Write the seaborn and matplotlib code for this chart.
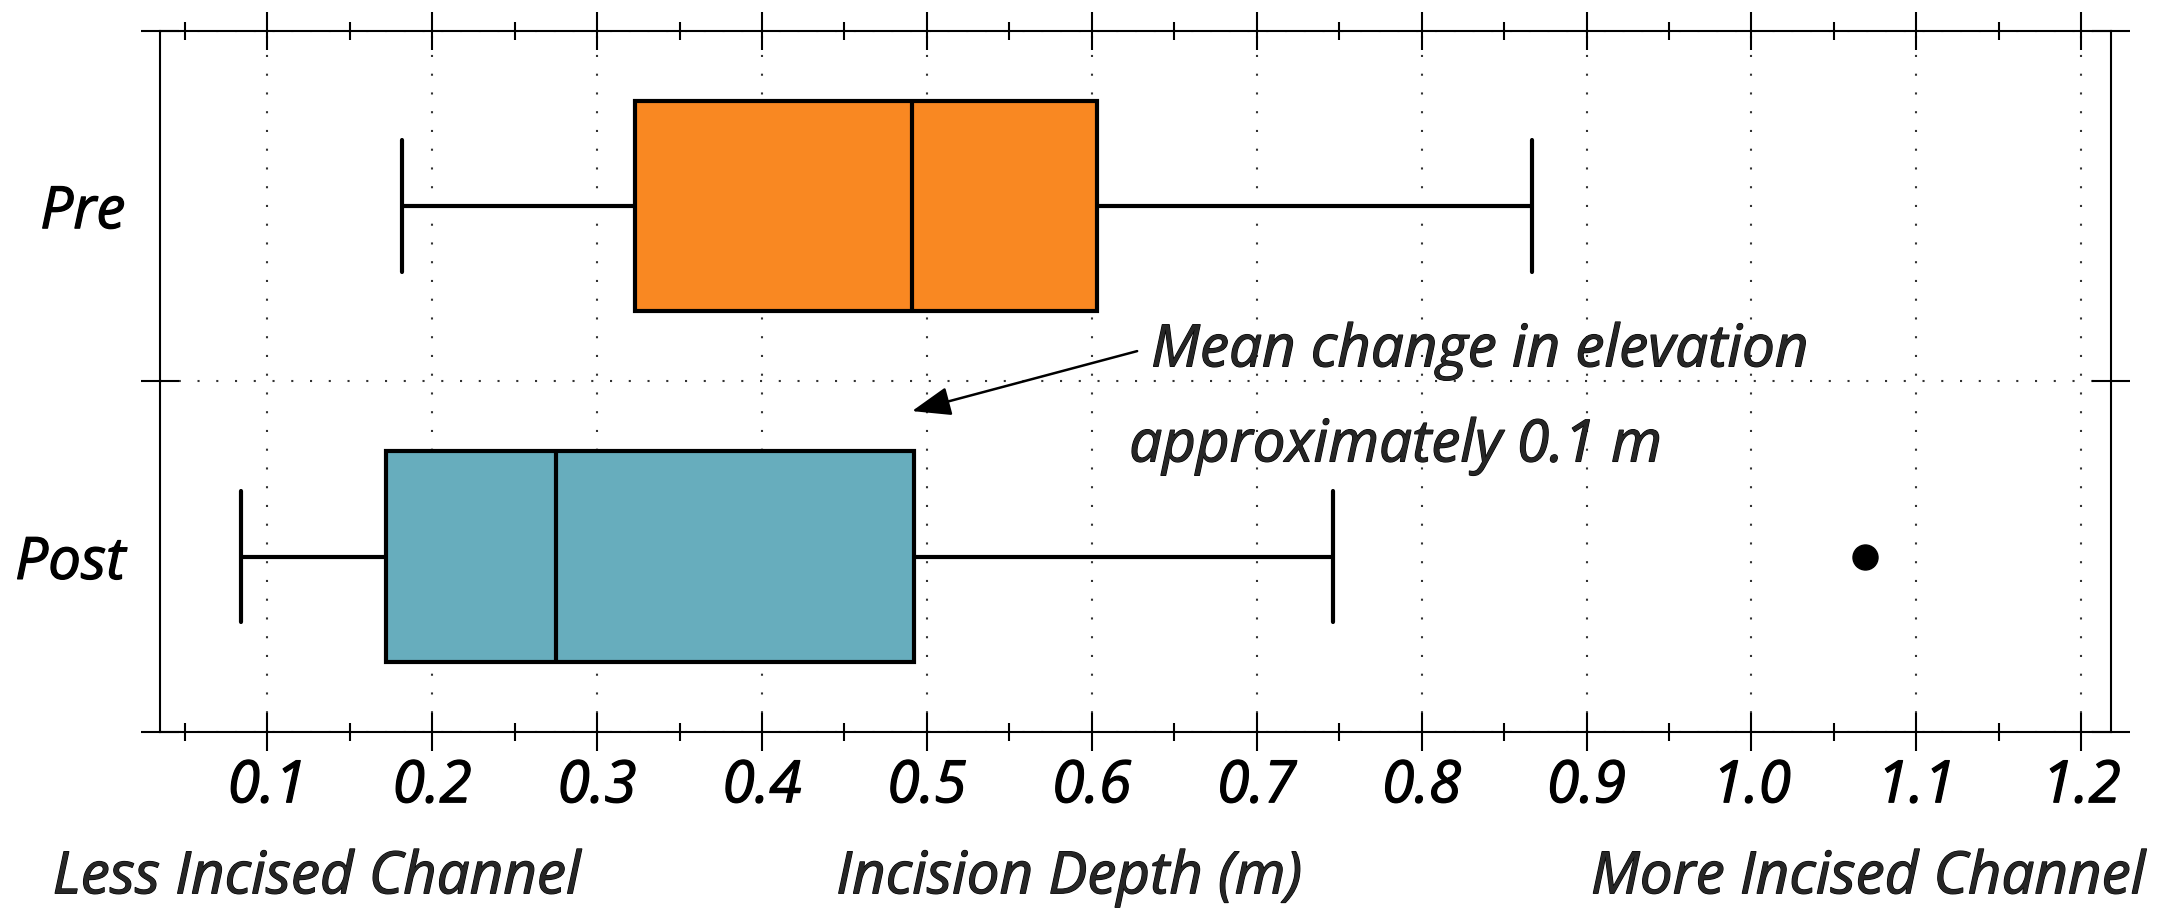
import numpy as np
import pandas as pd
import matplotlib
matplotlib.use("Agg")
import matplotlib.pyplot as plt
import matplotlib.patheffects as pe
from matplotlib.ticker import FixedLocator
import seaborn as sns

# ---- data ----
categories = ["Pre", "Post"]
whisker_low = [0.182, 0.084]
q1 = [0.323, 0.172]
median = [0.491, 0.275]
q3 = [0.603, 0.492]
whisker_high = [0.867, 0.746]
outliers = [[], [1.069]]
box_colors = ["#F98822", "#67ADBD"]
x_ticks = [0.1, 0.2, 0.3, 0.4, 0.5, 0.6, 0.7, 0.8, 0.9, 1.0, 1.1, 1.2]
x_tick_labels = ["0.1", "0.2", "0.3", "0.4", "0.5", "0.6", "0.7", "0.8", "0.9", "1.0", "1.1", "1.2"]
x_minor_ticks = [0.05, 0.15, 0.25, 0.35, 0.45, 0.55, 0.65, 0.75, 0.85, 0.95, 1.05, 1.15]

# build samples whose box statistics equal the values above
rows = []
for cat, lo, a, m, b, hi, out in zip(categories, whisker_low, q1, median, q3, whisker_high, outliers):
    sample = [lo, a, a, m, m, b, b, hi] + (list(out) if out else [hi])
    rows += [(cat, v) for v in sample]
df = pd.DataFrame(rows, columns=["phase", "depth"])

sns.set_theme(style="white")
plt.rcParams["font.family"] = ["Open Sans", "DejaVu Sans"]
plt.rcParams["font.style"] = "italic"
plt.rcParams["font.weight"] = "medium"

FS = 42
thick = [pe.withStroke(linewidth=0.9, foreground="black")]

fig = plt.figure(figsize=(21.78, 9.08), dpi=100)
ax = fig.add_axes([0.0735, 0.1938, 0.8957, 0.7726])

sns.boxplot(data=df, x="depth", y="phase", order=categories, hue="phase",
            hue_order=categories, palette=box_colors, saturation=1, width=0.6,
            linecolor="black", linewidth=3.0, fliersize=18, whis=1.5,
            capwidths=0.375,
            flierprops=dict(marker="o", markerfacecolor="black", markeredgecolor="black"),
            legend=False, ax=ax)

ax.set_xlim(0.035, 1.218)
ax.set_ylim(1.5, -0.5)
ax.set_xlabel("")
ax.set_ylabel("")

ax.xaxis.set_major_locator(FixedLocator(x_ticks))
ax.set_xticklabels(x_tick_labels)
ax.xaxis.set_minor_locator(FixedLocator(x_minor_ticks))
ax.tick_params(axis="x", which="major", direction="inout", length=27, width=1.5,
               top=True, bottom=True, labeltop=False, labelbottom=True,
               labelsize=FS, pad=5, color="black", labelcolor="black")
ax.tick_params(axis="x", which="minor", direction="inout", length=13, width=1.5,
               top=True, bottom=True, color="black")

ax.yaxis.set_major_locator(FixedLocator([0, 1]))
ax.set_yticklabels(categories)
ax.yaxis.set_minor_locator(FixedLocator([-0.5, 0.5, 1.5]))
ax.tick_params(axis="y", which="major", length=0, labelsize=FS, pad=25, labelcolor="black")
ax.tick_params(axis="y", which="minor", direction="inout", length=27, width=1.5,
               left=True, right=True, color="black")

for lbl in ax.get_xticklabels() + ax.get_yticklabels():
    lbl.set_path_effects(thick)

grid_style = dict(linestyle=(0, (1, 8)), color="#333333", linewidth=1.5)
ax.set_axisbelow(True)
ax.grid(axis="x", which="major", **grid_style)
ax.grid(axis="y", which="minor", **grid_style)
ax.grid(axis="y", which="major", visible=False)

for s in ax.spines.values():
    s.set_visible(True)
    s.set_color("black")
    s.set_linewidth(1.5)

ax.annotate("", xy=(0.491, 0.585), xytext=(0.6275, 0.414),
            arrowprops=dict(arrowstyle="-|>,head_length=0.8,head_width=0.3",
                            color="black", lw=1.8, shrinkA=0, shrinkB=0,
                            mutation_scale=30))
ax.text(0.636, 0.414, "Mean change in elevation", ha="left", va="center",
        fontsize=FS, path_effects=thick)
ax.text(0.6227, 0.685, "approximately 0.1 m", ha="left", va="center",
        fontsize=FS, path_effects=thick)

fig.text(0.0242, 0.033, "Less Incised Channel", ha="left", va="center",
         fontsize=FS, path_effects=thick)
fig.text(0.491, 0.033, "Incision Depth (m)", ha="center", va="center",
         fontsize=FS, path_effects=thick)
fig.text(0.9853, 0.033, "More Incised Channel", ha="right", va="center",
         fontsize=FS, path_effects=thick)

fig.savefig("out.png", dpi=100)
